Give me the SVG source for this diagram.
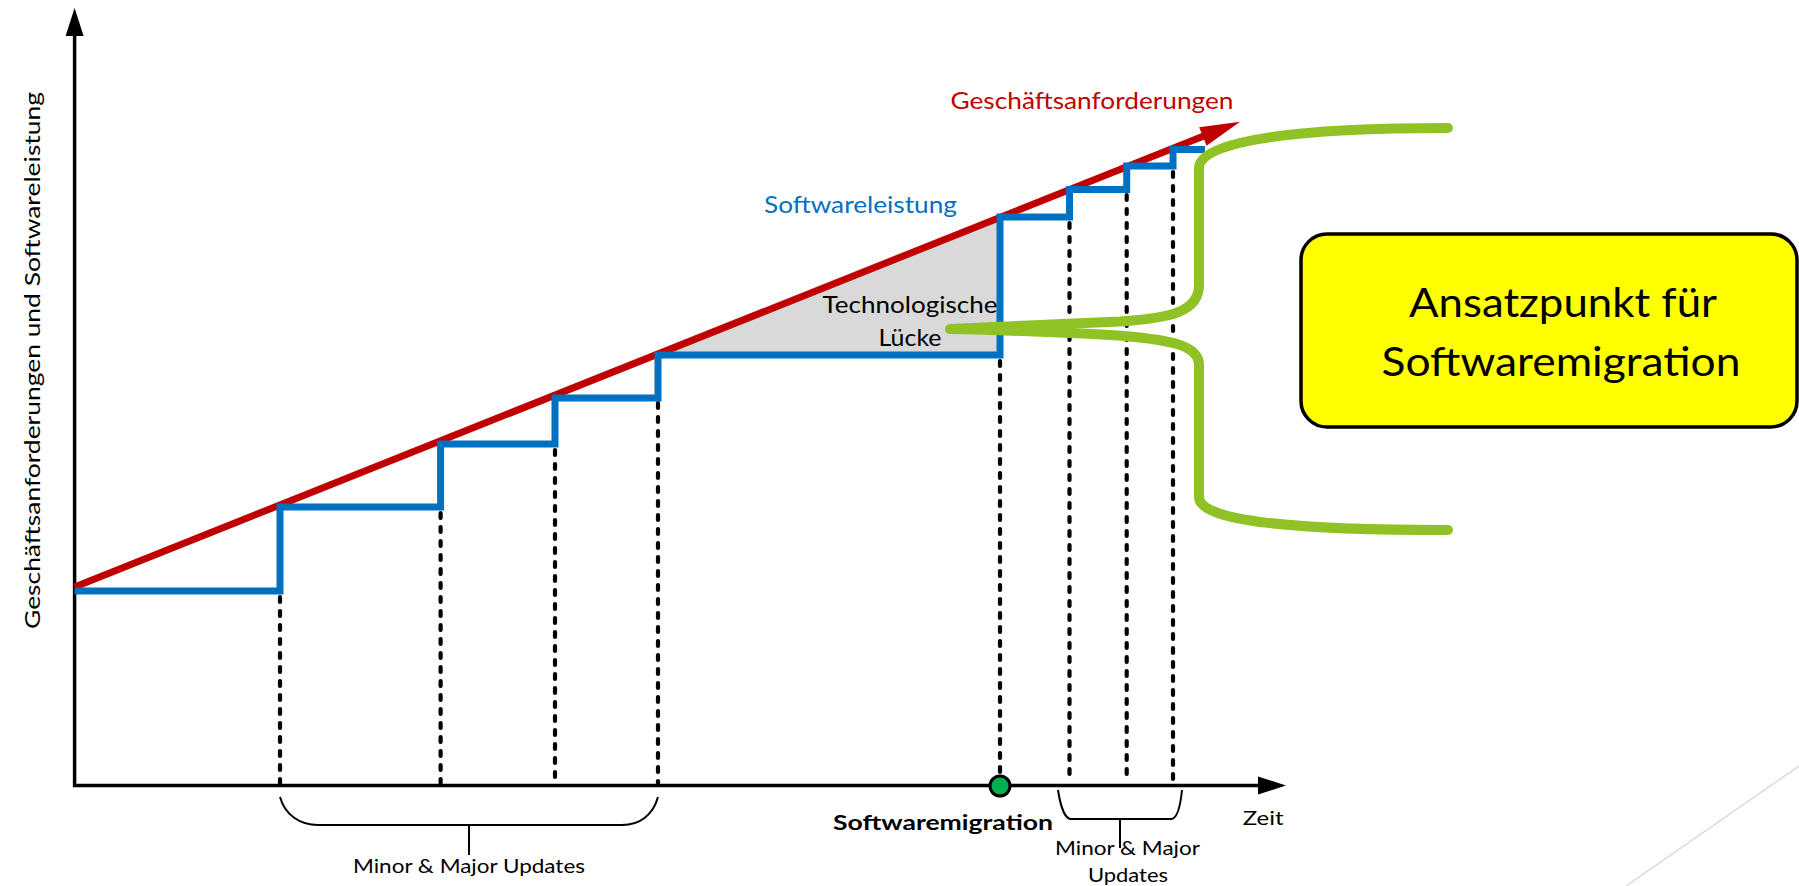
<svg xmlns="http://www.w3.org/2000/svg" width="1799" height="886" viewBox="0 0 1799 886">
<style>
text{font-family:Lato,"Open Sans","Liberation Sans",sans-serif;}
.axis{stroke:#000;stroke-width:3.5;fill:none;}
.dash{stroke:#000;stroke-width:4.2;stroke-dasharray:5 9;stroke-linecap:round;fill:none;}
.brk{stroke:#000;stroke-width:2;fill:none;}
.lbl{font-size:20px;fill:#000;}
</style>
<rect width="1799" height="886" fill="#fff"/>
<g id="gap">
<polygon points="658,355 1000,355 1000,217.5" fill="#D9D9D9"/>
</g>
<g id="connectors">
<line class="axis" x1="74.6" y1="787" x2="74.6" y2="34"/>
<polygon points="74.6,8 65.6,36 83.6,36" fill="#000"/>
<line class="axis" x1="73" y1="785.5" x2="1260" y2="785.5"/>
<polygon points="1286,785.5 1258,776.5 1258,794.5" fill="#000"/>
<g id="dashes">
<line class="dash" x1="280" y1="597" x2="280" y2="783"/>
<line class="dash" x1="440.6" y1="513" x2="440.6" y2="783"/>
<line class="dash" x1="555" y1="450" x2="555" y2="783"/>
<line class="dash" x1="658" y1="361" x2="658" y2="783"/>
<line class="dash" x1="1000" y1="361" x2="1000" y2="772"/>
<line class="dash" x1="1069.5" y1="223" x2="1069.5" y2="783"/>
<line class="dash" x1="1126.7" y1="195" x2="1126.7" y2="783"/>
<line class="dash" x1="1173" y1="172" x2="1173" y2="783"/>
</g>
<g id="requirements">
<line x1="74.6" y1="587" x2="1205" y2="135.5" stroke="#C00000" stroke-width="7"/>
<polygon points="1240,121.7 1199.2,127.2 1206.6,145.8" fill="#C00000"/>
</g>
<g id="performance">
<path d="M74.6,591 H280 V507 H440.6 V444 H555 V398 H658 V355 H1000 V217 H1069.5 V189.5 H1126.7 V166 H1173 V149.5 H1205" fill="none" stroke="#0070C0" stroke-width="7" stroke-linejoin="miter"/>
</g>
<g id="brace">
<path d="M1448,128 C1300,128 1199,140 1199,168 L1199,285 C1199,312 1170,318 1120,321.5 Q1040,325 950,329 Q1040,331 1110,335 C1170,339 1199,345 1199,365 L1199,497 C1199,522 1300,530 1448,530" fill="none" stroke="#90C226" stroke-width="10" stroke-linecap="round" stroke-linejoin="round"/>
</g>
<g id="brackets">
<path class="brk" d="M280,797 C285,815 300,825 318,825 H622 C640,825 653,815 658,797"/>
<line class="brk" x1="469" y1="825" x2="469" y2="855"/>
<path class="brk" d="M1058,790 C1061,810 1066,819 1071,819 H1171 C1176,819 1180,810 1182,790"/>
<line class="brk" x1="1120" y1="819" x2="1120" y2="848"/>
</g>
<line x1="1799" y1="766" x2="1626" y2="886" stroke="#D9D9D9" stroke-width="1.5"/>
</g>
<g id="node-migration-point">
<circle cx="1000" cy="786" r="10" fill="#00B050" stroke="#000" stroke-width="3"/>
<text x="943" y="830" class="lbl" font-weight="bold" text-anchor="middle" textLength="220" lengthAdjust="spacingAndGlyphs">Softwaremigration</text>
</g>
<g id="node-yaxis">
<text transform="translate(39.5,360.5) rotate(-90)" font-size="21" text-anchor="middle" textLength="537" lengthAdjust="spacingAndGlyphs" fill="#000">Geschäftsanforderungen und Softwareleistung</text>
</g>
<g id="node-xaxis">
<text x="1242.7" y="825" font-size="19" textLength="41" lengthAdjust="spacingAndGlyphs" fill="#000">Zeit</text>
</g>
<g id="node-req-label">
<text x="950.5" y="109.3" font-size="23.5" fill="#C00000" textLength="283" lengthAdjust="spacingAndGlyphs">Geschäftsanforderungen</text>
</g>
<g id="node-perf-label">
<text x="764" y="213" font-size="24" fill="#0070C0" textLength="193" lengthAdjust="spacingAndGlyphs">Softwareleistung</text>
</g>
<g id="node-gap-label">
<text x="910" y="312.7" font-size="24" text-anchor="middle" fill="#000" textLength="175" lengthAdjust="spacingAndGlyphs">Technologische</text>
<text x="910" y="346" font-size="24" text-anchor="middle" fill="#000" textLength="63" lengthAdjust="spacingAndGlyphs">Lücke</text>
</g>
<g id="node-updates1">
<text x="469" y="872.7" class="lbl" text-anchor="middle" textLength="232" lengthAdjust="spacingAndGlyphs">Minor &amp; Major Updates</text>
</g>
<g id="node-updates2">
<text x="1127.5" y="855" font-size="19" text-anchor="middle" fill="#000" textLength="145" lengthAdjust="spacingAndGlyphs">Minor &amp; Major</text>
<text x="1128" y="882" font-size="19" text-anchor="middle" fill="#000" textLength="80" lengthAdjust="spacingAndGlyphs">Updates</text>
</g>
<g id="node-ansatz">
<rect x="1301" y="234" width="496" height="193" rx="26" ry="26" fill="#FFFF00" stroke="#000" stroke-width="3.5"/>
<text x="1563" y="317.3" font-size="40" text-anchor="middle" fill="#000" textLength="308" lengthAdjust="spacingAndGlyphs">Ansatzpunkt für</text>
<text x="1561" y="376" font-size="40" text-anchor="middle" fill="#000" textLength="359" lengthAdjust="spacingAndGlyphs">Softwaremigration</text>
</g>
</svg>
